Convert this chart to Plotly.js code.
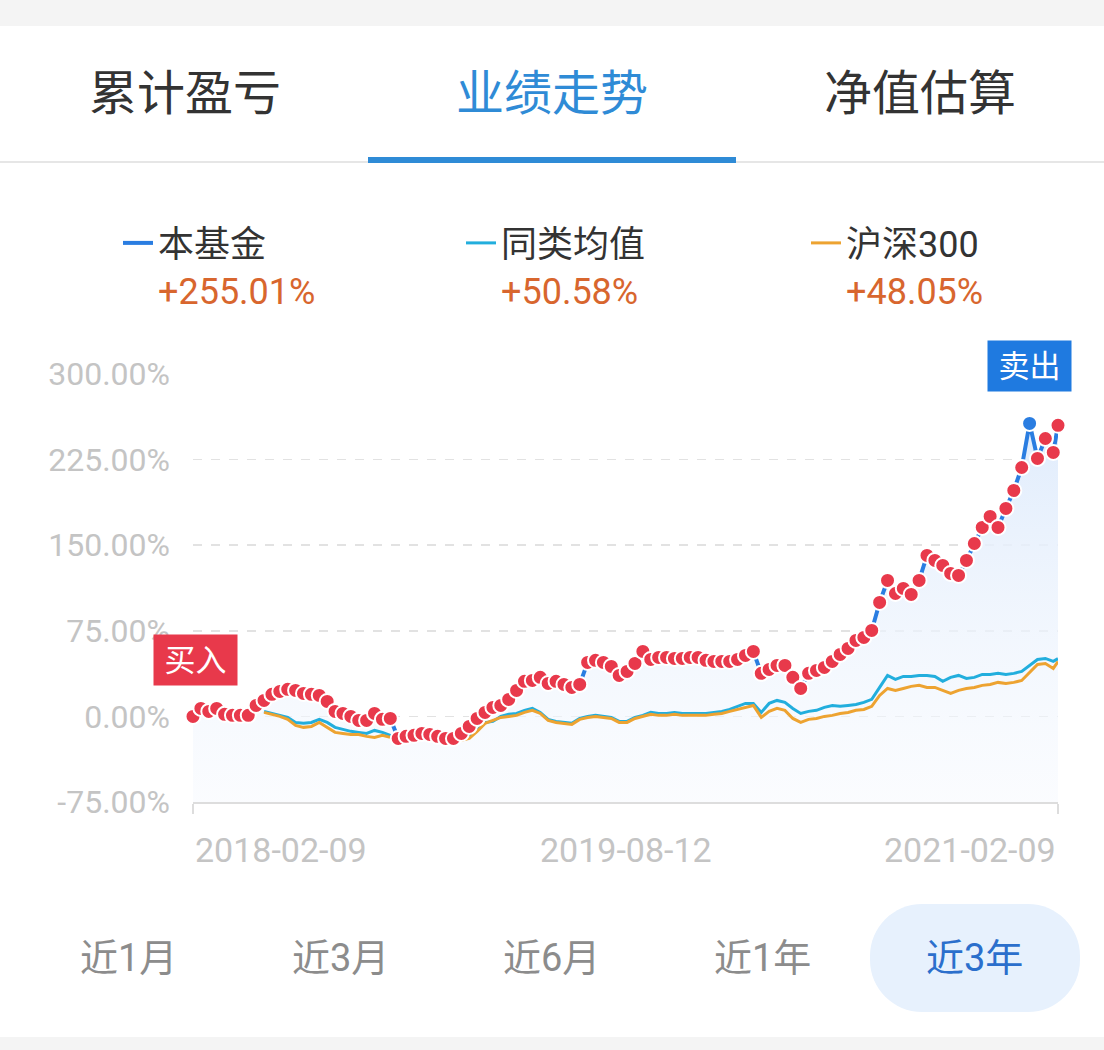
<!DOCTYPE html>
<html>
<head>
<meta charset="utf-8">
<script src="https://cdn.plot.ly/plotly-3.0.1.min.js"></script>
<style>
  html, body { margin: 0; padding: 0; background: #ffffff; }
  #chart { width: 1104px; height: 1050px; }
</style>
</head>
<body>
<div id="chart"></div>
<script>
// ---------------- data ----------------
const tabLabels = ['累计盈亏', '业绩走势', '净值估算'];
const periodLabels = ['近1月', '近3月', '近6月', '近1年', '近3年'];
const seriesNames = ['本基金', '同类均值', '沪深300'];
const xTickLabels = ['2018-02-09', '2019-08-12', '2021-02-09'];
const yTickVals = [-75, 0, 75, 150, 225, 300];
const yTickLabels = ['-75.00%', '0.00%', '75.00%', '150.00%', '225.00%', '300.00%'];

const dates = [
  '2018-02-09','2018-02-19','2018-03-01','2018-03-11','2018-03-21','2018-03-31','2018-04-10','2018-04-20','2018-04-30','2018-05-10',
  '2018-05-20','2018-05-30','2018-06-09','2018-06-19','2018-06-29','2018-07-09','2018-07-19','2018-07-29','2018-08-08','2018-08-18',
  '2018-08-28','2018-09-07','2018-09-17','2018-09-27','2018-10-07','2018-10-17','2018-10-27','2018-11-06','2018-11-16','2018-11-26',
  '2018-12-06','2018-12-16','2018-12-26','2019-01-05','2019-01-15','2019-01-25','2019-02-04','2019-02-14','2019-02-24','2019-03-06',
  '2019-03-16','2019-03-26','2019-04-05','2019-04-15','2019-04-25','2019-05-05','2019-05-15','2019-05-25','2019-06-04','2019-06-14',
  '2019-06-24','2019-07-04','2019-07-14','2019-07-24','2019-08-03','2019-08-13','2019-08-23','2019-09-02','2019-09-12','2019-09-22',
  '2019-10-02','2019-10-12','2019-10-22','2019-11-01','2019-11-11','2019-11-21','2019-12-01','2019-12-11','2019-12-21','2019-12-31',
  '2020-01-10','2020-01-20','2020-01-30','2020-02-09','2020-02-19','2020-02-29','2020-03-10','2020-03-20','2020-03-30','2020-04-09',
  '2020-04-19','2020-04-29','2020-05-09','2020-05-19','2020-05-29','2020-06-08','2020-06-18','2020-06-28','2020-07-08','2020-07-18',
  '2020-07-28','2020-08-07','2020-08-17','2020-08-27','2020-09-06','2020-09-16','2020-09-26','2020-10-06','2020-10-16','2020-10-26',
  '2020-11-05','2020-11-15','2020-11-25','2020-12-05','2020-12-15','2020-12-25','2021-01-04','2021-01-14','2021-01-24','2021-02-03',
  '2021-02-09'
];

// 本基金 (cumulative return, %)
const fundReturn = [
  0, 7.0, 4.4, 7.0, 1.8, 0.9, 0.9, 0.9, 9.6, 14.0,
  19.3, 21.9, 23.7, 22.8, 20.1, 19.3, 18.4, 13.1, 4.4, 2.6,
  0, -3.5, -3.5, 2.6, -2.6, -1.8, -19.3, -17.5, -16.6, -14.9,
  -15.8, -17.5, -19.3, -19.3, -14.9, -8.8, -1.8, 3.5, 7.9, 9.6,
  14.9, 22.8, 30.7, 31.5, 34.2, 28.9, 30.7, 28.0, 25.4, 28.0,
  47.3, 49.1, 47.3, 43.8, 35.9, 39.4, 46.4, 56.9, 49.9, 51.7,
  51.7, 50.8, 50.8, 51.7, 51.7, 49.1, 48.2, 48.2, 48.2, 49.9,
  53.4, 56.9, 37.7, 41.2, 44.7, 44.7, 34.2, 24.5, 37.7, 40.3,
  42.9, 48.2, 54.3, 59.6, 66.6, 69.2, 75.3, 99.9, 119.1, 107.7,
  112.1, 106.9, 119.1, 141.0, 136.7, 132.3, 125.3, 123.5, 136.7, 151.5,
  165.6, 175.2, 165.6, 182.2, 198.0, 218.1, 256.7, 226.0, 243.5, 231.3,
  255.01
];

// 同类均值 (%)
const peerReturn = [
  null, null, null, null, null, null, null, null, null, 4.4,
  2.6, 0.9, -0.9, -5.3, -6.1, -5.3, -2.6, -5.3, -9.6, -11.4,
  -13.1, -14.0, -14.9, -12.3, -14.0, -16.6, -19.3, -18.4, -17.5, -16.6,
  -17.5, -18.4, -19.3, -20.1, -19.3, -17.5, -12.3, -5.3, -4.4, 0,
  1.8, 2.6, 5.3, 7.0, 3.5, -2.6, -4.4, -5.3, -6.1, -1.8,
  0, 0.9, 0, -0.9, -4.4, -4.4, -0.9, 0.9, 3.5, 2.6,
  2.6, 3.5, 2.6, 2.6, 2.6, 2.6, 3.5, 4.4, 6.1, 8.8,
  11.4, 11.4, 3.5, 11.4, 14.0, 12.3, 7.0, 2.6, 4.4, 5.3,
  7.9, 9.6, 8.8, 9.6, 10.5, 12.3, 14.9, 25.4, 35.9, 32.4,
  35.0, 35.0, 35.9, 35.9, 35.0, 30.7, 34.2, 35.9, 33.3, 34.2,
  36.8, 36.8, 37.7, 36.8, 37.7, 39.4, 44.7, 49.9, 50.8, 48.2,
  50.58
];

// 沪深300 (%)
const csiReturn = [
  null, null, null, null, null, null, null, null, null, 3.5,
  1.8, 0, -2.6, -7.9, -9.6, -8.8, -5.3, -9.6, -14.0, -14.9,
  -15.8, -15.8, -17.5, -18.4, -16.6, -18.4, -21.0, -20.1, -19.3, -18.4,
  -19.3, -20.1, -21.0, -21.9, -21.0, -19.3, -13.1, -6.1, -3.5, -0.9,
  0, 0.9, 3.5, 5.3, 2.6, -3.5, -5.3, -6.1, -7.0, -2.6,
  -0.9, 0, -0.9, -1.8, -5.3, -5.3, -1.8, 0, 1.8, 0.9,
  0.9, 1.8, 0.9, 0.9, 0.9, 0.9, 1.8, 2.6, 4.4, 6.1,
  7.9, 9.6, -0.9, 4.4, 7.0, 5.3, -1.8, -5.3, -2.6, -1.8,
  0, 0.9, 2.6, 3.5, 5.3, 6.1, 8.8, 18.4, 24.5, 22.8,
  24.5, 26.3, 27.2, 25.4, 25.4, 22.8, 20.1, 22.8, 24.5, 25.4,
  27.2, 28.0, 29.8, 28.9, 29.8, 31.5, 38.5, 45.5, 46.4, 42.0,
  48.05
];

// ---------------- styling / geometry ----------------
const FONT = "Roboto, 'Noto Sans CJK SC', 'Noto Sans', sans-serif";
const W = 1104, H = 1050, ML = 193, MR = 46, MT = 374, MB = 248;
const PW = W - ML - MR, PH = H - MT - MB;
const px = x => (x - ML) / PW;          // page pixel -> paper x
const py = y => (H - MB - y) / PH;      // page pixel -> paper y

const C_FUND = '#2a7de1', C_PEER = '#22aedd', C_CSI = '#eda331';
const C_RED = '#e8394b', C_VAL = '#d8662e';
const yMin = yTickVals[0], yMax = yTickVals[yTickVals.length - 1];

const peakIdx = fundReturn.indexOf(Math.max(...fundReturn));
const dotColors = fundReturn.map((v, i) => i === peakIdx ? C_FUND : C_RED);
const lastVal = arr => arr[arr.length - 1];
const fmtVal = v => (v >= 0 ? '+' : '') + v.toFixed(2) + '%';
const legendText = (name, arr) => name + '<br><span style="color:' + C_VAL + '">' + fmtVal(lastVal(arr)) + '</span>';

const traces = [
  { // baseline for the area fill (bottom of the axis)
    x: dates, y: dates.map(() => yMin), mode: 'lines', line: {width: 0, color: 'rgba(0,0,0,0)'},
    showlegend: false, hoverinfo: 'skip'
  },
  { // area under fund line
    x: dates, y: fundReturn, mode: 'lines', line: {width: 0, color: 'rgba(0,0,0,0)'},
    fill: 'tonexty',
    fillcolor: 'rgba(232,241,253,0.6)',
    fillgradient: {type: 'vertical', start: yMin, stop: 260,
      colorscale: [[0, 'rgba(246,249,254,0.5)'], [1, 'rgba(224,236,252,1)']]},
    showlegend: false, hoverinfo: 'skip'
  },
  {
    name: legendText(seriesNames[0], fundReturn), legend: 'legend',
    x: dates, y: fundReturn, mode: 'lines', line: {color: C_FUND, width: 4}
  },
  {
    name: legendText(seriesNames[1], peerReturn), legend: 'legend2',
    x: dates, y: peerReturn, mode: 'lines', line: {color: C_PEER, width: 3}, connectgaps: false
  },
  {
    name: legendText(seriesNames[2], csiReturn), legend: 'legend3',
    x: dates, y: csiReturn, mode: 'lines', line: {color: C_CSI, width: 3}, connectgaps: false
  },
  { // transaction dots
    x: dates, y: fundReturn, mode: 'markers', showlegend: false, cliponaxis: false,
    marker: {size: 15, color: dotColors, line: {color: '#ffffff', width: 2}}
  }
];

const shapes = [
  // top & bottom grey strips
  {type: 'rect', xref: 'paper', yref: 'paper', x0: px(0), x1: px(W), y0: py(0), y1: py(26),
   fillcolor: '#f4f4f4', line: {width: 0}, layer: 'below'},
  {type: 'rect', xref: 'paper', yref: 'paper', x0: px(0), x1: px(W), y0: py(1037), y1: py(H),
   fillcolor: '#f4f4f4', line: {width: 0}, layer: 'below'},
  // divider under tabs
  {type: 'line', xref: 'paper', yref: 'paper', x0: px(0), x1: px(W), y0: py(162), y1: py(162),
   line: {color: '#dedede', width: 1.5}},
  // active tab underline
  {type: 'rect', xref: 'paper', yref: 'paper', x0: px(368), x1: px(736), y0: py(157), y1: py(163),
   fillcolor: '#2f8bd6', line: {width: 0}},
];

// pill for active period button (rounded ends)
(function () {
  const x0 = 870, x1 = 1080, y0 = 904, y1 = 1012, r = 52, k = 0.5523 * r;
  const P = (x, y) => px(x).toFixed(5) + ',' + py(y).toFixed(5);
  const d = 'M' + P(x0 + r, y0) + ' L' + P(x1 - r, y0) +
    ' C' + P(x1 - r + k, y0) + ' ' + P(x1, y0 + r - k) + ' ' + P(x1, y0 + r) +
    ' L' + P(x1, y1 - r) +
    ' C' + P(x1, y1 - r + k) + ' ' + P(x1 - r + k, y1) + ' ' + P(x1 - r, y1) +
    ' L' + P(x0 + r, y1) +
    ' C' + P(x0 + r - k, y1) + ' ' + P(x0, y1 - r + k) + ' ' + P(x0, y1 - r) +
    ' L' + P(x0, y0 + r) +
    ' C' + P(x0, y0 + r - k) + ' ' + P(x0 + r - k, y0) + ' ' + P(x0 + r, y0) + ' Z';
  shapes.push({type: 'path', xref: 'paper', yref: 'paper', path: d,
    fillcolor: '#e7f1fd', line: {width: 0}, layer: 'below'});
})();

const annotations = [];
// tabs
const tabX = [185, 552, 920];
tabLabels.forEach((t, i) => annotations.push({
  text: t, xref: 'paper', yref: 'paper', x: px(tabX[i]), y: py(93), xanchor: 'center', yanchor: 'middle',
  showarrow: false, font: {family: FONT, size: 48, color: i === 1 ? '#2f8bd6' : '#333333'}
}));
// period buttons
const btnX = [128, 340, 551, 762, 974];
periodLabels.forEach((t, i) => annotations.push({
  text: t, xref: 'paper', yref: 'paper', x: px(btnX[i]), y: py(958), xanchor: 'center', yanchor: 'middle',
  showarrow: false, font: {family: FONT, size: 38, color: i === periodLabels.length - 1 ? '#2b6fcc' : '#8c8c8c'}
}));
// x-axis labels (first left-aligned, middle centered, last right-aligned)
const xAnch = ['left', 'center', 'right'];
xTickLabels.forEach((t, i) => annotations.push({
  text: t, xref: 'x', yref: 'paper', x: t, y: py(850), xanchor: xAnch[i], yanchor: 'middle',
  showarrow: false, font: {family: FONT, size: 34, color: '#c4c4c4'}
}));
// buy / sell tags
annotations.push({
  text: '买入', xref: 'x', yref: 'y', x: dates[0], y: fundReturn[0], xanchor: 'center', yanchor: 'bottom',
  xshift: 2, yshift: 30, showarrow: false, width: 83, height: 50, borderpad: 0,
  bgcolor: C_RED, font: {family: FONT, size: 31, color: '#ffffff'}
});
annotations.push({
  text: '卖出', xref: 'x', yref: 'y', x: dates[peakIdx], y: fundReturn[peakIdx], xanchor: 'center', yanchor: 'bottom',
  xshift: 0, yshift: 31, showarrow: false, width: 83, height: 50, borderpad: 0,
  bgcolor: '#1f7ae0', font: {family: FONT, size: 31, color: '#ffffff'}
});

const legendBase = {
  orientation: 'v', y: py(213), xanchor: 'left', yanchor: 'top', valign: 'top',
  font: {family: FONT, size: 36, color: '#333333'}, bgcolor: 'rgba(0,0,0,0)', itemclick: false
};
const layout = {
  width: W, height: H,
  margin: {l: ML, r: MR, t: MT, b: MB, pad: 0},
  paper_bgcolor: '#ffffff', plot_bgcolor: 'rgba(0,0,0,0)',
  font: {family: FONT},
  showlegend: true,
  legend: Object.assign({}, legendBase, {x: px(118)}),
  legend2: Object.assign({}, legendBase, {x: px(461)}),
  legend3: Object.assign({}, legendBase, {x: px(806)}),
  xaxis: {
    type: 'date', range: [dates[0], dates[dates.length - 1]],
    showgrid: false, zeroline: false, showline: true, linecolor: '#dddddd', linewidth: 2,
    ticks: 'outside', tickvals: [xTickLabels[0], xTickLabels[2]], ticklen: 10, tickwidth: 2, tickcolor: '#dddddd',
    showticklabels: false, fixedrange: true
  },
  yaxis: {
    range: [yMin, yMax], tickvals: yTickVals, ticktext: yTickLabels,
    showgrid: true, gridcolor: '#e2e2e2', griddash: 'dash', gridwidth: 1.5,
    zeroline: false, showline: false, ticks: '', ticklabelstandoff: 22,
    tickfont: {family: FONT, size: 32, color: '#c4c4c4'}, fixedrange: true
  },
  shapes: shapes,
  annotations: annotations,
  hovermode: false
};

Plotly.newPlot('chart', traces, layout, {displayModeBar: false, staticPlot: true});
</script>
</body>
</html>
